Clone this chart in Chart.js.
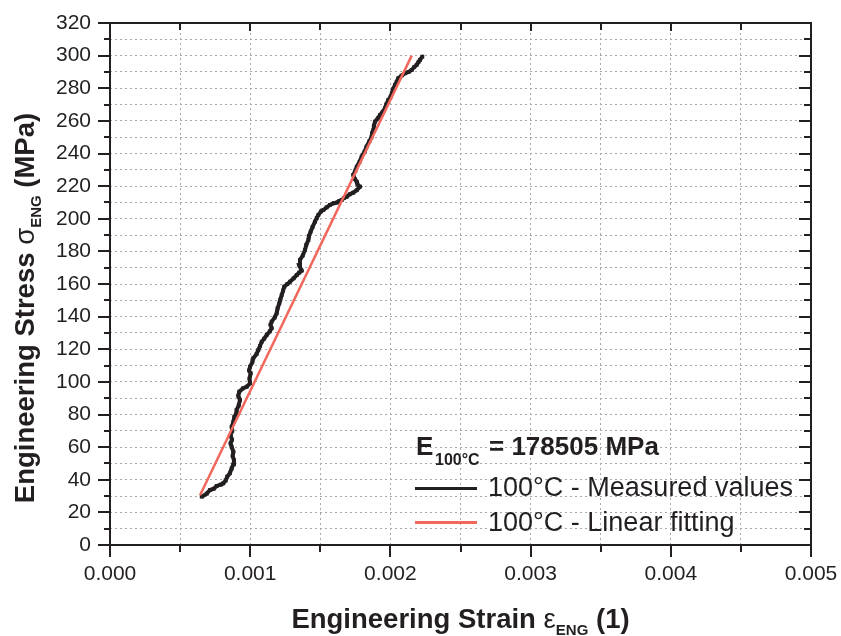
<!DOCTYPE html>
<html>
<head>
<meta charset="utf-8">
<script src="https://cdn.jsdelivr.net/npm/chart.js@4.4.1/dist/chart.umd.min.js"></script>
<style>
body { margin: 0; background: #fff; }
#wrap { position: relative; width: 841px; height: 636px; overflow: hidden; font-family: "Liberation Sans", Arial, sans-serif; color: #231f20; }
#wrap .t { position: absolute; white-space: nowrap; }
.title { font-size: 27.5px; line-height: 27px; font-weight: bold; }
.sub { font-size: 15px; font-weight: bold; vertical-align: -7px; }
.greek { font-weight: normal; }
.entry { font-size: 27px; line-height: 27px; }
.swatch { position: absolute; height: 3px; }
</style>
</head>
<body>
<div id="wrap">
  <canvas id="chart" width="841" height="636"></canvas>

  <div class="t title" style="left:110px; width:701px; top:605px; text-align:center;">Engineering Strain <span class="greek">ε</span><span class="sub">ENG</span> (1)</div>
  <div class="t title" style="left:-220px; top:289px; width:500px; text-align:center; transform:rotate(-90deg);">Engineering Stress <span class="greek">σ</span><span class="sub">ENG</span> (MPa)</div>

  <div class="t" style="left:416px; top:433px; font-size:26px; line-height:26px; font-weight:bold;">E</div>
  <div class="t" style="left:435px; top:452px; font-size:16px; line-height:16px; font-weight:bold;">100°C</div>
  <div class="t" style="left:489px; top:433px; font-size:26px; line-height:26px; font-weight:bold;">= 178505 MPa</div>

  <div class="swatch" style="left:415px; width:62px; top:487px; background:#231f20;"></div>
  <div class="t entry" style="left:488px; top:474px;">100°C - Measured values</div>
  <div class="swatch" style="left:415px; width:62px; top:521px; background:#f2675c;"></div>
  <div class="t entry" style="left:488px; top:509px;">100°C - Linear fitting</div>
</div>

<script>
// measured curve
const measuredStrain = [
  0.000654, 0.000690, 0.000713, 0.000740, 0.000761, 0.000790, 0.000808, 0.000825, 0.000836, 0.000855,
  0.000868, 0.000880, 0.000884, 0.000875, 0.000880, 0.000868, 0.000860, 0.000870, 0.000860, 0.000872,
  0.000868, 0.000880, 0.000887, 0.000900, 0.000903, 0.000918, 0.000927, 0.000915, 0.000922, 0.000950,
  0.000975, 0.000999, 0.000995, 0.001003, 0.000992, 0.000999, 0.001015, 0.001022, 0.001045, 0.001058,
  0.001070, 0.001082, 0.001100, 0.001118, 0.001140, 0.001153, 0.001145, 0.001153, 0.001175, 0.001189,
  0.001195, 0.001208, 0.001215, 0.001225, 0.001235, 0.001243, 0.001265, 0.001284, 0.001310, 0.001332,
  0.001350, 0.001367, 0.001350, 0.001355, 0.001375, 0.001391, 0.001400, 0.001415, 0.001420, 0.001431,
  0.001445, 0.001462, 0.001475, 0.001486, 0.001505, 0.001522, 0.001545, 0.001569, 0.001595, 0.001617,
  0.001635, 0.001653, 0.001670, 0.001688, 0.001710, 0.001735, 0.001760, 0.001783, 0.001765, 0.001760,
  0.001745, 0.001735, 0.001750, 0.001760, 0.001780, 0.001795, 0.001815, 0.001830, 0.001850, 0.001866,
  0.001870, 0.001878, 0.001882, 0.001890, 0.001910, 0.001926, 0.001945, 0.001961, 0.001970, 0.001985,
  0.002000, 0.002010, 0.002020, 0.002033, 0.002045, 0.002056, 0.002080, 0.002104, 0.002130, 0.002152,
  0.002170, 0.002187, 0.002200, 0.002211, 0.002228
];
const measuredStress = [
  29.6, 31.5, 33.7, 34.5, 36.2, 37.0, 37.8, 39.5, 41.9, 44.0,
  47.0, 49.5, 52.1, 54.5, 57.2, 60.0, 62.3, 64.5, 67.4, 70.0,
  72.5, 75.5, 78.7, 80.5, 82.8, 85.5, 88.9, 91.5, 94.0, 96.1,
  97.0, 99.1, 102.0, 105.3, 107.0, 109.3, 112.0, 114.5, 117.0, 119.6,
  122.0, 124.6, 126.5, 128.8, 131.0, 132.9, 135.0, 136.9, 139.5, 142.1,
  145.0, 148.2, 150.5, 153.3, 156.0, 158.4, 160.0, 161.4, 163.5, 165.5,
  167.0, 168.2, 171.5, 174.7, 177.5, 180.9, 184.0, 187.0, 189.5, 192.1,
  195.0, 198.2, 200.5, 202.3, 204.5, 205.4, 207.0, 208.5, 209.5, 209.9,
  210.8, 211.5, 212.8, 213.5, 215.0, 216.0, 217.5, 219.7, 221.0, 222.7,
  224.5, 226.9, 229.5, 231.9, 235.0, 238.1, 241.0, 244.2, 247.5, 250.3,
  252.5, 254.4, 257.0, 259.5, 261.5, 263.6, 265.5, 267.7, 270.0, 272.8,
  274.5, 276.9, 279.5, 282.0, 284.0, 286.1, 287.8, 289.2, 290.0, 291.2,
  293.0, 294.3, 296.0, 297.4, 299.4
];

// linear fit end points
const fitStrain = [0.000642, 0.002152];
const fitStress = [30.5, 300];

const xMin = 0, xMax = 0.005, xStep = 0.0005;
const yMin = 0, yMax = 320, yStep = 10;

const axisColor = '#231f20';
const gridColor = '#a8a8a8';

function isMajorX(v) {
	return Math.round(v * 10000) % 10 === 0;
}
function isMajorY(v) {
	return Math.round(v) % 20 === 0;
}

// tick labels should not push the plot area around
function noPadding(s) {
	s.paddingLeft = 0;
	s.paddingRight = 0;
	s.paddingTop = 0;
	s.paddingBottom = 0;
}

const frameTicks = {
	id: 'frameTicks',
	afterDraw(chart) {
		const ctx = chart.ctx;
		const a = chart.chartArea;
		const xs = chart.scales.x, ys = chart.scales.y;
		ctx.save();
		ctx.strokeStyle = axisColor;
		ctx.lineWidth = 2;
		ctx.beginPath();
		for (const t of ys.ticks) {
			const py = Math.round(ys.getPixelForValue(t.value));
			const major = isMajorY(t.value);
			ctx.moveTo(a.left - (major ? 12 : 6), py);
			ctx.lineTo(a.left, py);
			ctx.moveTo(a.right - (major ? 12 : 7), py);
			ctx.lineTo(a.right, py);
		}
		for (const t of xs.ticks) {
			const px = Math.round(xs.getPixelForValue(t.value));
			const major = isMajorX(t.value);
			ctx.moveTo(px, a.bottom);
			ctx.lineTo(px, a.bottom + (major ? 12 : 7));
			ctx.moveTo(px, a.top);
			ctx.lineTo(px, a.top + (major ? 8 : 7));
		}
		ctx.stroke();
		ctx.strokeRect(a.left, a.top, a.right - a.left, a.bottom - a.top);
		ctx.restore();
	}
};

function gridWidth(c) {
	if (!c.tick) return 0;
	return 1;
}

new Chart(document.getElementById('chart'), {
	type: 'scatter',
	data: {
		datasets: [
			{
				label: '100°C - Linear fitting',
				data: fitStrain.map((x, i) => ({x: x, y: fitStress[i]})),
				showLine: true,
				borderColor: '#f2675c',
				borderWidth: 2.5,
				pointRadius: 0,
				order: 0
			},
			{
				label: '100°C - Measured values',
				data: measuredStrain.map((x, i) => ({x: x, y: measuredStress[i]})),
				showLine: true,
				borderColor: axisColor,
				backgroundColor: axisColor,
				borderWidth: 4,
				pointStyle: 'rect',
				pointRadius: 2.7,
				pointBorderWidth: 0,
				order: 1
			}
		]
	},
	options: {
		responsive: false,
		animation: false,
		layout: { padding: { top: 23, right: 30, left: 0, bottom: 0 } },
		plugins: {
			legend: { display: false },
			tooltip: { enabled: false }
		},
		scales: {
			x: {
				type: 'linear',
				min: xMin,
				max: xMax,
				afterFit: s => { s.height = 91; noPadding(s); },
				ticks: {
					stepSize: xStep,
					autoSkip: false,
					maxRotation: 0,
					padding: 17,
					color: axisColor,
					font: { family: '"Liberation Sans", Arial, sans-serif', size: 21 },
					callback: v => isMajorX(v) ? v.toFixed(3) : ''
				},
				grid: { color: gridColor, lineWidth: gridWidth, drawTicks: false },
				border: { display: false, dash: [2, 3] }
			},
			y: {
				type: 'linear',
				min: yMin,
				max: yMax,
				afterFit: s => { s.width = 110; noPadding(s); },
				ticks: {
					stepSize: yStep,
					autoSkip: false,
					padding: 19,
					color: axisColor,
					font: { family: '"Liberation Sans", Arial, sans-serif', size: 21 },
					callback: v => isMajorY(v) ? String(v) : ''
				},
				grid: { color: gridColor, lineWidth: gridWidth, drawTicks: false },
				border: { display: false, dash: [2, 3] }
			}
		}
	},
	plugins: [frameTicks]
});
</script>
</body>
</html>
